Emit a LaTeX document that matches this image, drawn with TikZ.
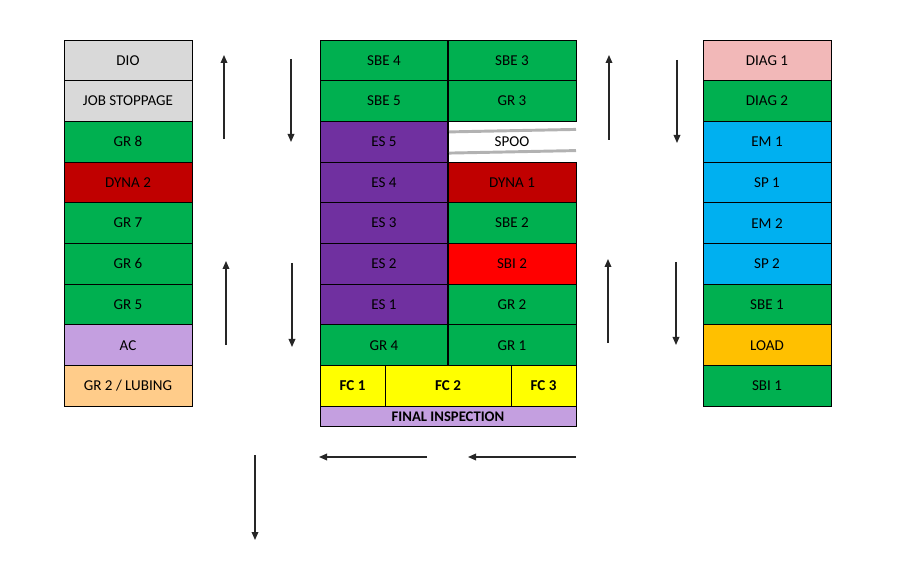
\documentclass[tikz,border=0pt]{standalone}
\usepackage{fontspec}
\setmainfont{Carlito}
\usetikzlibrary{arrows.meta,calc}

\definecolor{cgray}{HTML}{D9D9D9}
\definecolor{cgreen}{HTML}{00B050}
\definecolor{cdred}{HTML}{C00000}
\definecolor{clilac}{HTML}{C49FE0}
\definecolor{cpeach}{HTML}{FFCC8A}
\definecolor{cpurple}{HTML}{7030A0}
\definecolor{cred}{HTML}{FF0000}
\definecolor{cyellow}{HTML}{FFFF00}
\definecolor{cpink}{HTML}{F2B8B8}
\definecolor{cblue}{HTML}{00B0F0}
\definecolor{corange}{HTML}{FFC000}

\begin{document}
\begin{tikzpicture}[x=0.75pt,y=-0.75pt,
  every node/.style={font=\fontsize{11.3}{13}\selectfont},
  cell/.style={draw=black,line width=0.7pt,inner sep=0pt,outer sep=0pt,minimum width=96pt,minimum height=30.5pt},
  fc/.style={draw=black,line width=0.7pt,inner sep=0pt,outer sep=0pt,fill=cyellow,minimum height=30.5pt,font=\fontsize{11.3}{13}\selectfont\bfseries},
  ar/.style={-{Triangle[length=6pt,width=5pt]},line width=0.9pt,black!85}]
\useasboundingbox (0,0) rectangle (897,588);
% left column
\node[cell,fill=cgray] (dio) at (128,60.35) {DIO};
\node[cell,fill=cgray] (jobs) at (128,101.05) {JOB STOPPAGE};
\node[cell,fill=cgreen] (grviii) at (128,141.75) {GR 8};
\node[cell,fill=cdred] (dynaii) at (128,182.45) {DYNA 2};
\node[cell,fill=cgreen] (grvii) at (128,223.15) {GR 7};
\node[cell,fill=cgreen] (grvi) at (128,263.85) {GR 6};
\node[cell,fill=cgreen] (grv) at (128,304.55) {GR 5};
\node[cell,fill=clilac] (ac) at (128,345.25) {AC};
\node[cell,fill=cpeach] (lub) at (128,385.95) {GR 2 / LUBING};
% middle block
\node[cell,fill=cgreen] (sbeiv) at (384,60.35) {SBE 4};
\node[cell,fill=cgreen] (sbeiii) at (512,60.35) {SBE 3};
\node[cell,fill=cgreen] (sbev) at (384,101.05) {SBE 5};
\node[cell,fill=cgreen] (griii) at (512,101.05) {GR 3};
\node[cell,fill=cpurple] (esv) at (384,141.75) {ES 5};
\node[cell,fill=white,draw=none] (spoo) at (512,141.75) {SPOO};
\node[cell,fill=cpurple] (esiv) at (384,182.45) {ES 4};
\node[cell,fill=cdred] (dynai) at (512,182.45) {DYNA 1};
\node[cell,fill=cpurple] (esiii) at (384,223.15) {ES 3};
\node[cell,fill=cgreen] (sbeii) at (512,223.15) {SBE 2};
\node[cell,fill=cpurple] (esii) at (384,263.85) {ES 2};
\node[cell,fill=cred] (sbiii) at (512,263.85) {SBI 2};
\node[cell,fill=cpurple] (esi) at (384,304.55) {ES 1};
\node[cell,fill=cgreen] (grii) at (512,304.55) {GR 2};
\node[cell,fill=cgreen] (griv) at (384,345.25) {GR 4};
\node[cell,fill=cgreen] (gri) at (512,345.25) {GR 1};
\node[fc,minimum width=48.75pt] (fci) at (352.5,385.95) {FC 1};
\node[fc,minimum width=94.5pt] (fcii) at (448,385.95) {FC 2};
\node[fc,minimum width=48.75pt] (fciii) at (543.5,385.95) {FC 3};
\node[cell,fill=clilac,minimum width=192pt,minimum height=15.5pt,font=\fontsize{11}{13}\selectfont\bfseries] (fin) at (448,416.6) {FINAL INSPECTION};
\draw[line width=0.7pt] (spoo.north west) -- (spoo.north east);
\draw[line width=0.7pt] (spoo.south west) -- (spoo.south east);
\draw[line width=1.5pt] (sbeiv.north east) -- (griv.south east);
\draw[gray!60,line width=2.2pt] ($(spoo.north west)+(1,10.5)$) -- ($(spoo.north east)+(0,8)$);
\draw[gray!60,line width=2.2pt] ($(spoo.south west)+(1,-9)$) -- ($(spoo.south east)+(0,-11.5)$);
% right column
\node[cell,fill=cpink] (diagi) at (767,60.35) {DIAG 1};
\node[cell,fill=cgreen] (diagii) at (767,101.05) {DIAG 2};
\node[cell,fill=cblue] (emi) at (767,141.75) {EM 1};
\node[cell,fill=cblue] (spi) at (767,182.45) {SP 1};
\node[cell,fill=cblue] (emii) at (767,223.15) {EM 2};
\node[cell,fill=cblue] (spii) at (767,263.85) {SP 2};
\node[cell,fill=cgreen] (sbei) at (767,304.55) {SBE 1};
\node[cell,fill=corange] (load) at (767,345.25) {LOAD};
\node[cell,fill=cgreen] (sbii) at (767,385.95) {SBI 1};
% flow arrows
\coordinate (ua1) at (224,139); \coordinate (ua1t) at (224,55);
\coordinate (da1) at (291,59); \coordinate (da1t) at (291,142);
\coordinate (ua2) at (226,345); \coordinate (ua2t) at (226,261);
\coordinate (da2) at (292,263); \coordinate (da2t) at (292,347);
\coordinate (ua3) at (609,140); \coordinate (ua3t) at (609,55);
\coordinate (da3) at (677,60); \coordinate (da3t) at (677,143);
\coordinate (ua4) at (608,343); \coordinate (ua4t) at (608,259);
\coordinate (da4) at (676,262); \coordinate (da4t) at (676,345);
\coordinate (la1) at (427,457); \coordinate (la1t) at (319,457);
\coordinate (la2) at (576,457); \coordinate (la2t) at (468,457);
\coordinate (dd) at (255,455); \coordinate (ddt) at (255,540);
\draw[ar] (ua1) -- (ua1t);
\draw[ar] (da1) -- (da1t);
\draw[ar] (ua2) -- (ua2t);
\draw[ar] (da2) -- (da2t);
\draw[ar] (ua3) -- (ua3t);
\draw[ar] (da3) -- (da3t);
\draw[ar] (ua4) -- (ua4t);
\draw[ar] (da4) -- (da4t);
\draw[ar] (la1) -- (la1t);
\draw[ar] (la2) -- (la2t);
\draw[ar] (dd) -- (ddt);
\end{tikzpicture}
\end{document}
